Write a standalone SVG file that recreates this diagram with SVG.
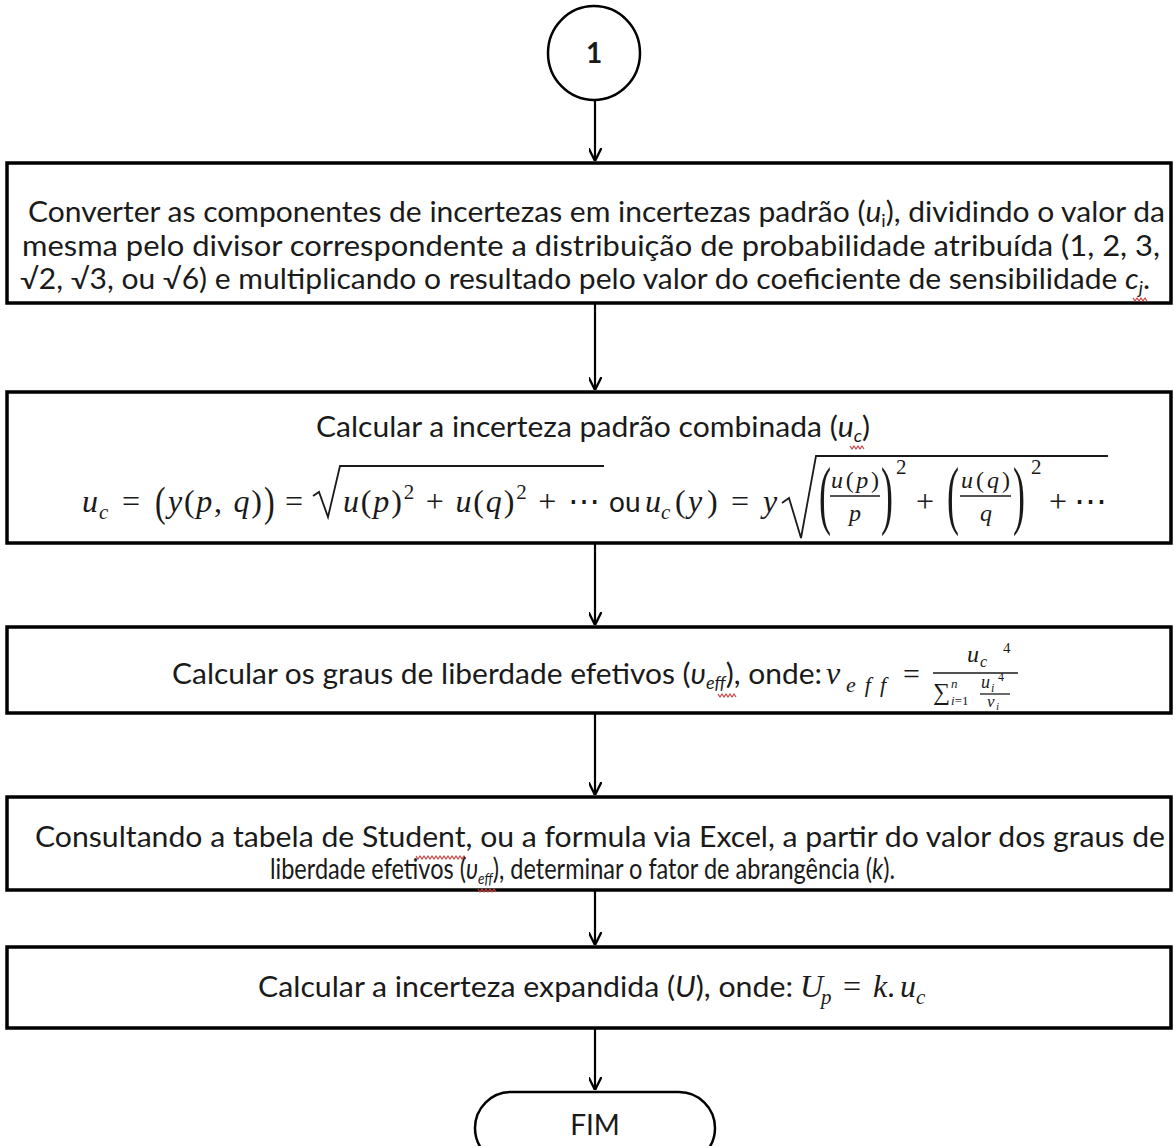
<svg xmlns="http://www.w3.org/2000/svg" width="1174" height="1146" viewBox="0 0 1174 1146">
<style>
.bg{fill:#fff}
.box{fill:#fff;stroke:#000;stroke-width:3.5}
.ln{stroke:#000;stroke-width:2.2;fill:none}
.t{font-family:Lato,"Open Sans","Liberation Sans",sans-serif;font-size:28px;fill:#1a1a1a}
.i{font-style:italic}
.m{font-family:"Liberation Serif","DejaVu Serif",serif;fill:#1a1a1a}
.mi{font-style:italic}
.bar{stroke:#1a1a1a;stroke-width:1.3;fill:none}
.rad{stroke:#1a1a1a;stroke-width:1.8;fill:none}
.sq{stroke:#d04040;stroke-width:1.2;fill:none}
</style>
<defs>
<marker id="ah" viewBox="0 0 10 10" refX="10" refY="5" markerWidth="13" markerHeight="13" markerUnits="userSpaceOnUse" orient="auto">
<path d="M0,0 L10,5 L0,10" fill="none" stroke="#000" stroke-width="1.8"/>
</marker>
</defs>
<rect class="bg" x="0" y="0" width="1174" height="1146"/>

<g id="connectors">
<line class="ln" x1="595" y1="100" x2="595" y2="161" marker-end="url(#ah)"/>
<line class="ln" x1="595" y1="303" x2="595" y2="390" marker-end="url(#ah)"/>
<line class="ln" x1="595" y1="543" x2="595" y2="625" marker-end="url(#ah)"/>
<line class="ln" x1="595" y1="713" x2="595" y2="795" marker-end="url(#ah)"/>
<line class="ln" x1="595" y1="890" x2="595" y2="945" marker-end="url(#ah)"/>
<line class="ln" x1="595" y1="1028" x2="595" y2="1090" marker-end="url(#ah)"/>
</g>

<g id="start">
<ellipse cx="594" cy="53" rx="46" ry="47" fill="#fff" stroke="#000" stroke-width="2.5"/>
<text class="t" x="594" y="63" text-anchor="middle" font-weight="bold">1</text>
</g>

<g id="step1">
<rect class="box" x="7" y="163" width="1164" height="140"/>
<text class="t" x="28" y="222" textLength="1137" lengthAdjust="spacingAndGlyphs">Converter as componentes de incertezas em incertezas padrão (<tspan class="i">u</tspan><tspan font-size="17" dy="5">i</tspan><tspan dy="-5">), dividindo o valor da</tspan></text>
<text class="t" x="22" y="256" textLength="1138" lengthAdjust="spacingAndGlyphs">mesma pelo divisor correspondente a distribuição de probabilidade atribuída (1, 2, 3,</text>
<text class="t" x="20" y="289" textLength="1130" lengthAdjust="spacingAndGlyphs">√2, √3, ou √6) e multiplicando o resultado pelo valor do coeficiente de sensibilidade <tspan class="i">c</tspan><tspan class="i" font-size="17" dy="5">j</tspan><tspan dy="-5">.</tspan></text>
<path class="sq" d="M1133,298 l2,3 l2,-3 l2,3 l2,-3 l2,3 l2,-3 l2,3"/>
</g>

<g id="step2" font-size="32">
<rect class="box" x="7" y="392" width="1164" height="151"/>
<text class="t" x="316" y="437" textLength="554" lengthAdjust="spacingAndGlyphs">Calcular a incerteza padrão combinada (<tspan class="i">u</tspan><tspan class="i" font-size="17" dy="5">c</tspan><tspan dy="-5">)</tspan></text>
<path class="sq" d="M850,446 l2,3 l2,-3 l2,3 l2,-3 l2,3 l2,-3 l2,3"/>
<text class="m mi" x="82" y="512">u</text>
<text class="m mi" x="99" y="519" font-size="21">c</text>
<text class="m" x="122" y="512">=</text>
<text class="m" transform="translate(155,516) scale(1,1.35)">(</text>
<text class="m" x="168" y="512" textLength="94" lengthAdjust="spacing"><tspan class="mi">y</tspan>(<tspan class="mi">p</tspan>, <tspan class="mi">q</tspan>)</text>
<text class="m" transform="translate(264,516) scale(1,1.35)">)</text>
<text class="m" x="285" y="512">=</text>
<path class="rad" d="M313,496 L319,492 L328,517 L340,466 L604,466"/>
<text class="m" x="343" y="512" textLength="257" lengthAdjust="spacing"><tspan class="mi">u</tspan>(<tspan class="mi">p</tspan>)<tspan font-size="21" dy="-13">2</tspan><tspan dy="13"> + </tspan><tspan class="mi">u</tspan>(<tspan class="mi">q</tspan>)<tspan font-size="21" dy="-13">2</tspan><tspan dy="13"> + ⋯</tspan></text>
<text class="t" x="609" y="512">ou</text>
<text class="m mi" x="645" y="512">u</text>
<text class="m mi" x="661" y="519" font-size="21">c</text>
<text class="m" x="675" y="512">(</text>
<text class="m mi" x="688" y="512">y</text>
<text class="m" x="707" y="512">)</text>
<text class="m" x="731" y="512">=</text>
<text class="m mi" x="763" y="512">y</text>
<path class="rad" d="M782,503 L789,498 L801,538 L816,456 L1108,456"/>
<text class="m" font-size="36" transform="translate(819,520) scale(1,2.1)">(</text>
<text class="m" x="831" y="488" font-size="24" textLength="48"><tspan class="mi">u</tspan>(<tspan class="mi">p</tspan>)</text>
<line class="bar" x1="830" y1="496" x2="880" y2="496"/>
<text class="m mi" x="849" y="521" font-size="24">p</text>
<text class="m" font-size="36" transform="translate(881,520) scale(1,2.1)">)</text>
<text class="m" x="896" y="474" font-size="21">2</text>
<text class="m" x="916" y="512">+</text>
<text class="m" font-size="36" transform="translate(947,520) scale(1,2.1)">(</text>
<text class="m" x="961" y="488" font-size="24" textLength="49"><tspan class="mi">u</tspan>(<tspan class="mi">q</tspan>)</text>
<line class="bar" x1="960" y1="496" x2="1011" y2="496"/>
<text class="m mi" x="980" y="521" font-size="24">q</text>
<text class="m" font-size="36" transform="translate(1013,520) scale(1,2.1)">)</text>
<text class="m" x="1031" y="474" font-size="21">2</text>
<text class="m" x="1049" y="512">+</text>
<text class="m" x="1074" y="512" textLength="33" lengthAdjust="spacingAndGlyphs">⋯</text>
</g>

<g id="step3" font-size="32">
<rect class="box" x="7" y="627" width="1164" height="86"/>
<text class="t" x="172" y="684" textLength="650" lengthAdjust="spacingAndGlyphs">Calcular os graus de liberdade efetivos (<tspan class="i">υ</tspan><tspan class="i" font-size="17" dy="5">eff</tspan><tspan dy="-5">), onde:</tspan></text>
<path class="sq" d="M718,694 l2,3 l2,-3 l2,3 l2,-3 l2,3 l2,-3 l2,3 l2,-3 l2,3"/>
<text class="m mi" x="826" y="684">ν</text>
<text class="m mi" x="846" y="692" font-size="22" textLength="40" lengthAdjust="spacing">eff</text>
<text class="m" x="903" y="684" font-size="30">=</text>
<text class="m mi" x="967" y="662" font-size="24">u</text>
<text class="m mi" x="980" y="667" font-size="16">c</text>
<text class="m" x="1003" y="653" font-size="15">4</text>
<line class="bar" x1="933" y1="673" x2="1018" y2="673"/>
<text class="m" x="933" y="700" font-size="24">∑</text>
<text class="m mi" x="951" y="688" font-size="13">n</text>
<text class="m" x="951" y="705" font-size="13"><tspan class="mi">i</tspan>=1</text>
<text class="m mi" x="981" y="688" font-size="18">u</text>
<text class="m mi" x="991" y="692" font-size="12">i</text>
<text class="m" x="998" y="681" font-size="12">4</text>
<line class="bar" x1="980" y1="694" x2="1010" y2="694"/>
<text class="m mi" x="987" y="707" font-size="17">ν</text>
<text class="m mi" x="996" y="710" font-size="11">i</text>
</g>

<g id="step4">
<rect class="box" x="7" y="797" width="1164" height="93"/>
<text class="t" x="35" y="847" textLength="1130" lengthAdjust="spacingAndGlyphs">Consultando a tabela de Student, ou a formula via Excel, a partir do valor dos graus de</text>
<path class="sq" d="M416,856 l2,3 l2,-3 l2,3 l2,-3 l2,3 l2,-3 l2,3 l2,-3 l2,3 l2,-3 l2,3 l2,-3 l2,3 l2,-3 l2,3 l2,-3 l2,3 l2,-3 l2,3 l2,-3 l2,3 l2,-3 l2,3 l2,-3 l2,3"/>
<text class="t" x="270" y="879" textLength="625" lengthAdjust="spacingAndGlyphs">liberdade efetivos (<tspan class="i">υ</tspan><tspan class="i" font-size="16" dy="5">eff</tspan><tspan dy="-5">), determinar o fator de abrangência (</tspan><tspan class="i">k</tspan>).</text>
<path class="sq" d="M478,889 l2,3 l2,-3 l2,3 l2,-3 l2,3 l2,-3 l2,3 l2,-3 l2,3"/>
</g>

<g id="step5" font-size="32">
<rect class="box" x="7" y="947" width="1164" height="81"/>
<text class="t" x="258" y="997" textLength="535" lengthAdjust="spacingAndGlyphs">Calcular a incerteza expandida (<tspan class="i">U</tspan>), onde:</text>
<text class="m mi" x="800" y="997">U</text>
<text class="m mi" x="821" y="1004" font-size="21">p</text>
<text class="m" x="843" y="997">=</text>
<text class="m mi" x="873" y="997">k</text>
<text class="m" x="887" y="997">.</text>
<text class="m mi" x="900" y="997">u</text>
<text class="m mi" x="916" y="1004" font-size="21">c</text>
</g>

<g id="end">
<rect x="475" y="1092" width="240" height="72" rx="36" ry="36" fill="#fff" stroke="#000" stroke-width="2.5"/>
<text class="t" x="595" y="1135" text-anchor="middle">FIM</text>
</g>
</svg>
